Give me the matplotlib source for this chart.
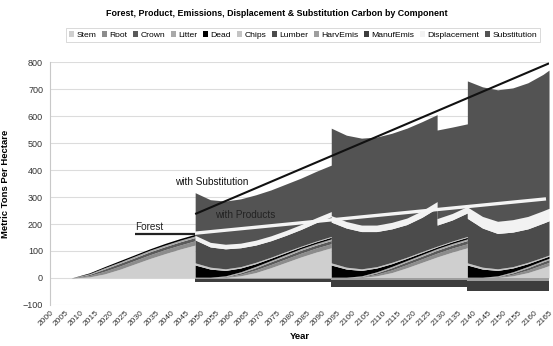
import matplotlib
matplotlib.use("Agg")
import matplotlib.pyplot as plt
import numpy as np

plt.rcParams['font.family'] = ['Liberation Sans', 'DejaVu Sans']

# Knot years (harvest years appear twice: just before and just after the cut)
years = [2000, 2007, 2013, 2018, 2023, 2028, 2033, 2038, 2043, 2048,
         2048, 2053, 2058, 2063, 2068, 2073, 2078, 2083, 2088, 2093,
         2093, 2098, 2103, 2108, 2113, 2118, 2123, 2128, 2128, 2133, 2138,
         2138, 2143, 2148, 2153, 2158, 2163, 2165]

stem = [0, 0, 4, 15, 32, 52, 72, 90, 107, 122,
        0, 0, 2, 8, 20, 38, 58, 78, 96, 112,
        0, 0, 2, 8, 20, 38, 58, 78, 78, 96, 112,
        0, 0, 2, 8, 20, 38, 46]
root = [0, 0, 5, 10, 12, 13, 14, 15, 15, 16,
        0, 0, 2, 6, 10, 12, 13, 14, 15, 15,
        0, 0, 2, 6, 10, 12, 13, 14, 14, 15, 15,
        0, 0, 2, 6, 10, 12, 12]
crown = [0, 0, 4, 8, 10, 10, 11, 11, 12, 12,
         0, 0, 1, 5, 8, 10, 10, 11, 11, 12,
         0, 0, 1, 5, 8, 10, 10, 11, 11, 11, 12,
         0, 0, 1, 5, 8, 10, 10]
litter = [0, 0, 3, 5, 5, 6, 6, 6, 6, 6,
          3, 3, 3, 4, 5, 5, 6, 6, 6, 6,
          3, 3, 3, 4, 5, 5, 6, 6, 6, 6, 6,
          3, 3, 3, 4, 5, 5, 5]
dead = [0, 0, 3, 4, 5, 5, 5, 6, 6, 6,
        45, 30, 20, 14, 10, 8, 7, 6, 6, 6,
        45, 30, 20, 14, 10, 8, 7, 6, 6, 6, 6,
        45, 30, 20, 14, 10, 8, 8]
chips = [0, 0, 0, 0, 0, 0, 0, 0, 0, 0,
         8, 7, 6, 5, 5, 4, 4, 3, 3, 3,
         8, 7, 6, 5, 5, 4, 4, 3, 3, 3, 3,
         8, 7, 6, 5, 5, 4, 4]
lumber = [0, 0, 0, 0, 0, 0, 0, 0, 0, 0,
          85, 75, 74, 70, 64, 61, 60, 62, 68, 74,
          151, 145, 138, 130, 124, 121, 127, 141, 78, 78, 87,
          165, 145, 131, 128, 124, 126, 127]
harv_emis = [0, 0, 0, 0, 0, 0, 0, 0, 0, 0,
             -4, -4, -4, -4, -4, -4, -4, -4, -4, -4,
             -8, -8, -8, -8, -8, -8, -8, -8, -8, -8, -8,
             -12, -12, -12, -12, -12, -12, -12]
manuf_emis = [0, 0, 0, 0, 0, 0, 0, 0, 0, 0,
              -12, -12, -12, -12, -12, -12, -12, -12, -12, -12,
              -26, -26, -26, -26, -26, -26, -26, -26, -26, -26, -26,
              -38, -38, -38, -38, -38, -38, -38]
displacement = [0, 0, 0, 0, 0, 0, 0, 0, 0, 0,
                17, 17, 17, 17, 18, 18, 18, 18, 18, 18,
                24, 24, 24, 24, 24, 24, 24, 24, 24, 24, 24,
                42, 43, 45, 46, 46, 46, 46]
substitution = [0, 0, 0, 0, 0, 0, 0, 0, 0, 0,
                158, 158, 160, 164, 168, 170, 172, 172, 172, 172,
                324, 320, 322, 326, 330, 333, 330, 322, 328, 320, 306,
                467, 480, 487, 488, 495, 505, 512]

series_names = ["Stem", "Root", "Crown", "Litter", "Dead", "Chips", "Lumber",
                "HarvEmis", "ManufEmis", "Displacement", "Substitution"]
series_colors = ["#cfcfcf", "#8c8c8c", "#5a5a5a", "#a9a9a9", "#000000", "#c4c4c4",
                 "#4b4b4b", "#9e9e9e", "#3d3d3d", "#f2f2f2", "#535353"]

# Reference trend lines
forest_line_years = [2028, 2048]
forest_line = [163, 163]
products_line_years = [2048, 2164]
products_line = [166, 293]
subst_line_years = [2048, 2165]
subst_line = [237, 795]

x_ticks = list(range(2000, 2166, 5))

fig = plt.figure(figsize=(5.53, 3.46), dpi=100)
ax = fig.add_axes([0.0904, 0.1185, 0.9024, 0.7023])

x = np.array(years, dtype=float)
all_series = [stem, root, crown, litter, dead, chips, lumber,
              harv_emis, manuf_emis, displacement, substitution]

pos_base = np.zeros_like(x)
neg_base = np.zeros_like(x)
handles = []
for name, vals, col in zip(series_names, all_series, series_colors):
    v = np.array(vals, dtype=float)
    if name in ("HarvEmis", "ManufEmis"):
        lo, hi = neg_base + v, neg_base
        neg_base = neg_base + v
    else:
        lo, hi = pos_base, pos_base + v
        pos_base = pos_base + v
    h = ax.fill_between(x, lo, hi, color=col, linewidth=0, label=name)
    handles.append(h)

ax.plot(forest_line_years, forest_line, color="#222222", lw=1.6, solid_capstyle="butt")
ax.plot(products_line_years, products_line, color="#f4f4f4", lw=2.4, solid_capstyle="butt")
ax.plot(subst_line_years, subst_line, color="#111111", lw=1.5, solid_capstyle="butt")

ax.text(2028.2, 172, "Forest", fontsize=7.2, color="#222222", va="bottom", ha="left")
ax.text(2054.5, 232, "with Products", fontsize=7.2, color="#222222", va="center", ha="left")
ax.text(2041.3, 356, "with Substitution", fontsize=7.2, color="#111111", va="center", ha="left")

ax.set_xlim(2000, 2165)
ax.set_ylim(-100, 800)
ax.set_yticks(range(-100, 801, 100))
ax.set_xticks(x_ticks)
ax.set_xticklabels([str(t) for t in x_ticks], rotation=45, ha="right",
                   rotation_mode="anchor", fontsize=6, color="#333333")
ax.tick_params(axis="y", labelsize=6.5, length=0, pad=5, labelcolor="#333333")
ax.tick_params(axis="x", length=0, pad=3)
ax.grid(axis="y", color="#dcdcdc", lw=0.8)
ax.set_axisbelow(True)
for s in ["top", "right", "bottom"]:
    ax.spines[s].set_visible(False)
ax.spines["left"].set_color("#c8c8c8")

ax.set_ylabel("Metric Tons Per Hectare", fontsize=6.8, fontweight="bold", labelpad=9)
ax.set_xlabel("Year", fontsize=6.8, fontweight="bold", labelpad=3)

fig.suptitle("Forest, Product, Emissions, Displacement & Substitution Carbon by Component",
             fontsize=6.4, fontweight="bold", y=0.975)

leg = fig.legend(handles=handles, labels=series_names, loc="center", ncol=11,
                 bbox_to_anchor=(0.548, 0.898), fontsize=6.1,
                 handlelength=0.6, handleheight=0.6, handletextpad=0.3,
                 columnspacing=0.65, frameon=True, borderpad=0.35)
leg.get_frame().set_edgecolor("#c8c8c8")
leg.get_frame().set_linewidth(0.6)
leg.get_frame().set_boxstyle("square", pad=0)

fig.savefig("out.png", dpi=100)
